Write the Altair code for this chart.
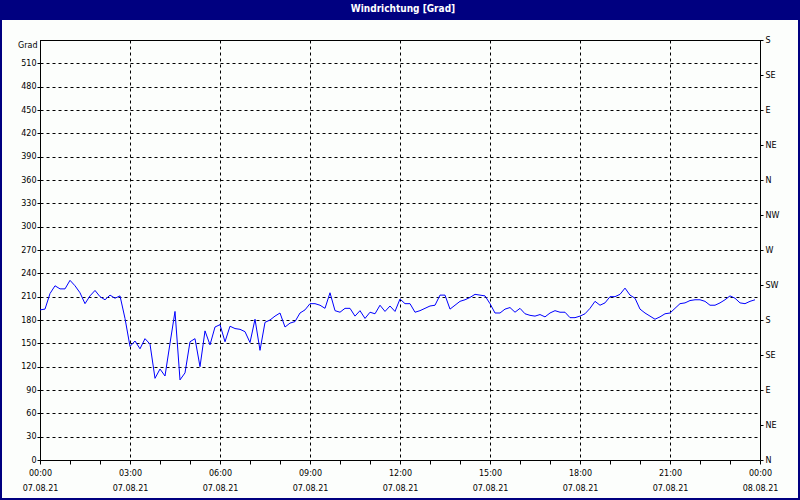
import json
import altair as alt
import pandas as pd

TITLE = "Windrichtung [Grad]"
Y_TITLE = "Grad"

# wind direction in degrees, one reading every 10 minutes from 07.08.21 00:00
direction = [
    193, 194, 214, 224, 220, 220, 231, 224, 215, 201,
    211, 218, 210, 206, 212, 208, 211, 182, 146, 153,
    143, 156, 149, 105, 117, 108, 150, 191, 103, 112,
    152, 156, 120, 166, 148, 171, 174, 152, 172, 169,
    168, 165, 151, 181, 141, 177, 180, 185, 189, 171,
    176, 178, 189, 193, 201, 201, 199, 195, 215,
    192, 190, 195, 195, 185, 192, 182, 190, 188, 199,
    191, 198, 191, 207, 201, 201, 190, 192, 195, 198,
    199, 212, 212, 194, 199, 204, 206, 209, 213,
    212, 211, 201, 189, 189, 194, 196, 190, 195, 188,
    186, 185, 187, 184, 189, 192, 190, 190, 183, 183,
    185, 188, 195, 204, 199, 202, 210, 210, 213,
    221, 212, 208, 194, 189, 185, 181, 184, 188, 189,
    195, 201, 202, 205, 206, 206, 204, 199, 199, 202,
    206, 211, 208, 202, 201, 204, 206,
]
minutes = [10 * i for i in range(len(direction))]

x_tick_hours = list(range(0, 25))          # tick every hour, label every 3 h
date_labels = ["07.08.21", "08.08.21"]
left_ticks = list(range(0, 540, 30))
right_ticks = list(range(0, 541, 45))
right_labels = ["N", "NE", "E", "SE", "S", "SW", "W", "NW", "N", "NE", "E", "SE", "S"]

df = pd.DataFrame({"h": [m / 60 for m in minutes], "deg": direction})
title_df = pd.DataFrame({"t": [TITLE]})

FONT = "DejaVu Sans"
FS = 8
W, H = 720, 420
NAVY = "#000080"

x_label_expr = (
    "datum.value % 3 === 0 ? [(datum.value % 24 < 10 ? '0' : '') + (datum.value % 24) + ':00', "
    "datum.value < 24 ? '" + date_labels[0] + "' : '" + date_labels[1] + "'] : ''"
)

x_enc = alt.X(
    "h:Q",
    scale=alt.Scale(domain=[0, 24], nice=False, zero=False),
    axis=alt.Axis(
        values=x_tick_hours, title=None, domain=True, domainColor="black",
        grid=True, gridColor="black", gridDash=[3, 3], gridWidth=1,
        gridOpacity={"condition": {"test": "datum.value % 3 === 0", "value": 1}, "value": 0},
        ticks=True, tickColor="black", tickSize=4,
        labelExpr=x_label_expr, labelFont=FONT, labelFontSize=FS, labelColor="black",
        labelLineHeight=15, labelPadding=5, labelFlush=False, labelOverlap=False, labelBound=False,
    ),
)

yscale = alt.Scale(domain=[0, 540], nice=False, zero=False)

left_axis = alt.Axis(
    values=left_ticks, orient="left", domain=True, domainColor="black",
    grid=True, gridColor="black", gridDash=[3, 3], gridWidth=1,
    ticks=True, tickColor="black", tickSize=3,
    labelFont=FONT, labelFontSize=FS, labelColor="black", labelPadding=1,
    labelFlush=False, labelOverlap=False, labelBound=False,
    title=Y_TITLE, titleAngle=0, titleAlign="right", titleBaseline="middle",
    titleX=-3, titleY=5, titleFont=FONT, titleFontSize=FS, titleFontWeight="normal",
    titleColor="black",
)

right_axis = alt.Axis(
    values=right_ticks, orient="right", domain=True, domainColor="black",
    grid=False, ticks=True, tickColor="black", tickSize=3,
    labelExpr=json.dumps(right_labels) + "[round(datum.value / 45)]",
    labelFont=FONT, labelFontSize=FS, labelColor="black", labelPadding=2,
    labelFlush=False, labelOverlap=False, labelBound=False, title=None,
)

base = alt.Chart(df)
line = base.mark_line(color="#0000ff", strokeWidth=1, clip=True).encode(
    x=x_enc, y=alt.Y("deg:Q", scale=yscale, axis=left_axis)
)
right = base.mark_line(opacity=0).encode(
    x=x_enc, y=alt.Y("deg:Q", scale=yscale, axis=right_axis)
)

top_line = alt.Chart(title_df).mark_rule(color="black", strokeWidth=1).encode(
    x=alt.value(0), x2=alt.value(W + 1), y=alt.value(0.5)
)
bar = alt.Chart(title_df).mark_rect(color=NAVY).encode(
    x=alt.value(-40), x2=alt.value(W + 40), y=alt.value(-40), y2=alt.value(-20)
)
border = alt.Chart(title_df).mark_rect(fill=None, stroke=NAVY, strokeWidth=2).encode(
    x=alt.value(-39), x2=alt.value(W + 39), y=alt.value(-39), y2=alt.value(H + 39)
)
title_text = alt.Chart(title_df).mark_text(
    font="DejaVu Sans Condensed", fontSize=10, fontWeight="bold", color="white",
    align="center", baseline="middle",
).encode(text="t:N", x=alt.value(W / 2 + 3), y=alt.value(-31))

chart = (
    alt.layer(right, line, top_line, bar, border, title_text)
    .resolve_axis(y="independent")
    .properties(
        width=W, height=H,
        autosize=alt.AutoSizeParams(type="none"),
        padding={"left": 40, "top": 40, "right": 40, "bottom": 40},
        background="#fcfefc",
    )
    .configure_view(stroke=None)
)

chart.save("out.html", embed_options={"renderer": "svg", "actions": False})
